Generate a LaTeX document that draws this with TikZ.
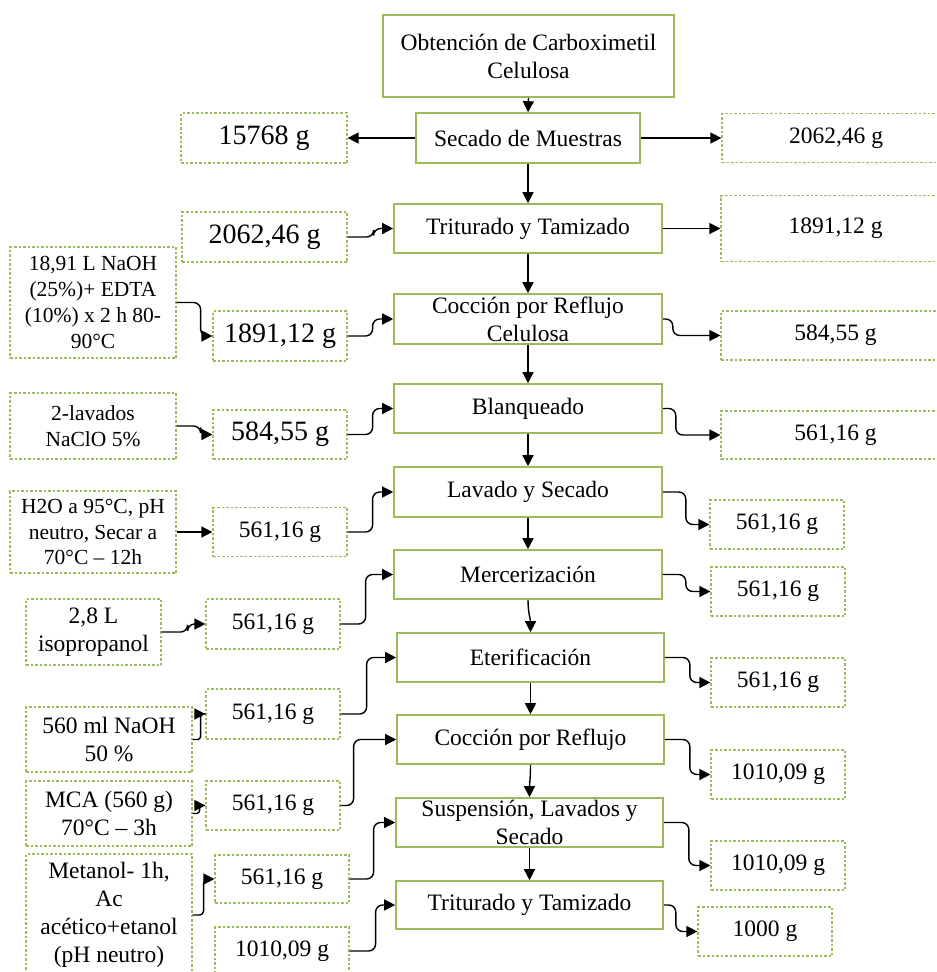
\documentclass[tikz,border=0pt]{standalone}
\usepackage{fontspec}
\setmainfont{Liberation Serif}
\usetikzlibrary{arrows.meta,calc}
\definecolor{verde}{HTML}{9BBB59}
\newcommand\fmedia{\fontsize{23.5}{28}\selectfont}
\newcommand\fgrande{\fontsize{28}{33}\selectfont}
\newcommand\fchica{\fontsize{21.5}{25.7}\selectfont}

\begin{document}
\begin{tikzpicture}[x=1pt,y=-1pt,
    paso/.style={draw=verde,line width=1.6pt,fill=white,inner sep=0pt,align=center,font=\fmedia},
    dato/.style={draw=verde,line width=1.2pt,dash pattern=on 2.5pt off 2pt,inner sep=0pt,align=center,font=\fmedia},
    flecha/.style={draw=black,line width=1.4pt,rounded corners=7pt,-{Triangle[length=11pt,width=11pt]}},
    codo/.style={to path={-- ([xshift=#1]\tikztostart) |- (\tikztotarget)}}]
  \fill[white] (0,0) rectangle (937,972);
  \clip (0,0) rectangle (937,972);

  % columna central
  \node[paso,minimum width=291pt,minimum height=82pt] (obt) at (528.5,56) {Obtención de Carboximetil\\Celulosa};
  \node[paso,minimum width=224pt,minimum height=50pt] (sec) at (528,138) {Secado de Muestras};
  \node[paso,minimum width=268pt,minimum height=49pt] (tri1) at (528,228.5) {Triturado y Tamizado};
  \node[paso,minimum width=268pt,minimum height=50pt] (coc1) at (528,319) {Cocción por Reflujo\\Celulosa};
  \node[paso,minimum width=268pt,minimum height=49pt] (blq) at (528,408.5) {Blanqueado};
  \node[paso,minimum width=268pt,minimum height=50pt] (lav) at (528,492) {Lavado y Secado};
  \node[paso,minimum width=268pt,minimum height=49pt] (mer) at (528,574.5) {Mercerización};
  \node[paso,minimum width=267pt,minimum height=49pt] (ete) at (530.5,657.5) {Eterificación};
  \node[paso,minimum width=267pt,minimum height=49pt] (coc2) at (530.5,739.5) {Cocción por Reflujo};
  \node[paso,minimum width=267pt,minimum height=49pt] (sus) at (529.5,822.5) {Suspensión, Lavados y\\Secado};
  \node[paso,minimum width=267pt,minimum height=48pt] (tri2) at (529.5,905) {Triturado y Tamizado};

  % salidas
  \node[dato,minimum width=228pt,minimum height=49pt] (r1) at (836,138) {2062,46 g};
  \node[dato,minimum width=229pt,minimum height=66pt] (r2) at (835.5,228.5) {1891,12 g};
  \node[dato,minimum width=229pt,minimum height=49pt] (r3) at (835.5,335.5) {584,55 g};
  \node[dato,minimum width=229pt,minimum height=48pt] (r4) at (835.5,435) {561,16 g};
  \node[dato,minimum width=134pt,minimum height=49pt] (r5) at (777,524.5) {561,16 g};
  \node[dato,minimum width=134pt,minimum height=49pt] (r6) at (778,591.5) {561,16 g};
  \node[dato,minimum width=134pt,minimum height=49pt] (r7) at (778,682.5) {561,16 g};
  \node[dato,minimum width=134pt,minimum height=49pt] (r8) at (778,774.5) {1010,09 g};
  \node[dato,minimum width=134pt,minimum height=49pt] (r9) at (778,865.5) {1010,09 g};
  \node[dato,minimum width=134pt,minimum height=49pt] (r10) at (765,931.5) {1000 g};

  % entradas
  \node[dato,font=\fgrande,minimum width=166pt,minimum height=50pt] (l1) at (264,138) {15768 g};
  \node[dato,font=\fgrande,minimum width=165pt,minimum height=50pt] (l2) at (264.5,237) {2062,46 g};
  \node[dato,font=\fchica,minimum width=166pt,minimum height=111pt] (l3) at (93,302.5) {18,91 L NaOH\\(25\%)+ EDTA\\(10\%) x 2 h 80-\\90°C};
  \node[dato,font=\fgrande,minimum width=134pt,minimum height=50pt] (l4) at (280,336) {1891,12 g};
  \node[dato,font=\fchica,minimum width=166pt,minimum height=66pt] (l5) at (93,426) {2-lavados\\NaClO 5\%};
  \node[dato,font=\fgrande,minimum width=134pt,minimum height=49pt] (l6) at (280,434.5) {584,55 g};
  \node[dato,font=\fchica,minimum width=166pt,minimum height=82pt] (l7) at (93,532) {H2O a 95°C, pH\\neutro, Secar a\\70°C – 12h};
  \node[dato,minimum width=134pt,minimum height=49pt] (l8) at (280,532) {561,16 g};
  \node[dato,minimum width=135pt,minimum height=66pt] (l9) at (93.5,632) {2,8 L\\isopropanol};
  \node[dato,minimum width=134pt,minimum height=50pt] (l10) at (273,624) {561,16 g};
  \node[dato,minimum width=134pt,minimum height=50pt] (l11) at (273,714) {561,16 g};
  \node[dato,minimum width=166pt,minimum height=65pt] (l12) at (109,739.5) {560 ml NaOH\\50 \%};
  \node[dato,minimum width=166pt,minimum height=65pt] (l13) at (109,813.5) {MCA (560 g)\\70°C – 3h};
  \node[dato,minimum width=134pt,minimum height=49pt] (l14) at (273,805.5) {561,16 g};
  \node[dato,minimum width=166pt,minimum height=122pt] (l15) at (109,915) {Metanol- 1h,\\Ac\\acético+etanol\\(pH neutro)};
  \node[dato,minimum width=134pt,minimum height=48pt] (l16) at (282,879) {561,16 g};
  \node[dato,minimum width=134pt,minimum height=48pt] (l17) at (282,951) {1010,09 g};

  % flujo principal
  \draw[flecha] (obt.south) -- (sec.north);
  \draw[flecha] (sec.west) -- (l1.east);
  \draw[flecha] (sec.east) -- (r1.west);
  \draw[flecha] (sec.south) -- (tri1.north);
  \draw[flecha] (tri1.south) -- (coc1.north);
  \draw[flecha] (coc1.south) -- (blq.north);
  \draw[flecha] (blq.south) -- (lav.north);
  \draw[flecha] (lav.south) -- (mer.north);
  \draw[flecha] (mer.south) to[out=-90,in=90] (ete.north);
  \draw[flecha] (ete.south) -- (coc2.north);
  \draw[flecha] (coc2.south) to[out=-90,in=90] (sus.north);
  \draw[flecha] (sus.south) -- (tri2.north);

  % salidas a la derecha
  \draw[flecha] (tri1.east) -- (r2.west);
  \draw[flecha,codo=10] (coc1.east) to (r3.west);
  \draw[flecha,codo=13] (blq.east) to (r4.west);
  \draw[flecha,codo=23] (lav.east) to (r5.west);
  \draw[flecha,codo=23] (mer.east) to (r6.west);
  \draw[flecha,codo=25] (ete.east) to (r7.west);
  \draw[flecha,codo=25] (coc2.east) to (r8.west);
  \draw[flecha,codo=25] (sus.east) to (r9.west);
  \draw[flecha,codo=12] (tri2.east) to (r10.west);

  % entradas a la izquierda
  \draw[flecha,codo=26] (l2.east) to (tri1.west);
  \draw[flecha,codo=24] (l3.east) to (l4.west);
  \draw[flecha,codo=25] (l4.east) to (coc1.west);
  \draw[flecha,codo=24] (l5.east) to (l6.west);
  \draw[flecha,codo=25] (l6.east) to (blq.west);
  \draw[flecha] (l7.east) -- (l8.west);
  \draw[flecha,codo=25] (l8.east) to (lav.west);
  \draw[flecha,codo=26] (l9.east) to (l10.west);
  \draw[flecha,codo=25] (l10.east) to (mer.west);
  \draw[flecha,codo=26] (l11.east) to (ete.west);
  \draw[flecha,codo=8,rounded corners=3pt] (l12.east) to (l11.west);
  \draw[flecha,codo=7,rounded corners=3pt] (l13.east) to (l14.west);
  \draw[flecha,codo=13] (l14.east) to (coc2.west);
  \draw[flecha,codo=11,rounded corners=4pt] (l15.east) to (l16.west);
  \draw[flecha,codo=24] (l16.east) to (sus.west);
  \draw[flecha,codo=26] (l17.east) to (tri2.west);
\end{tikzpicture}
\end{document}
